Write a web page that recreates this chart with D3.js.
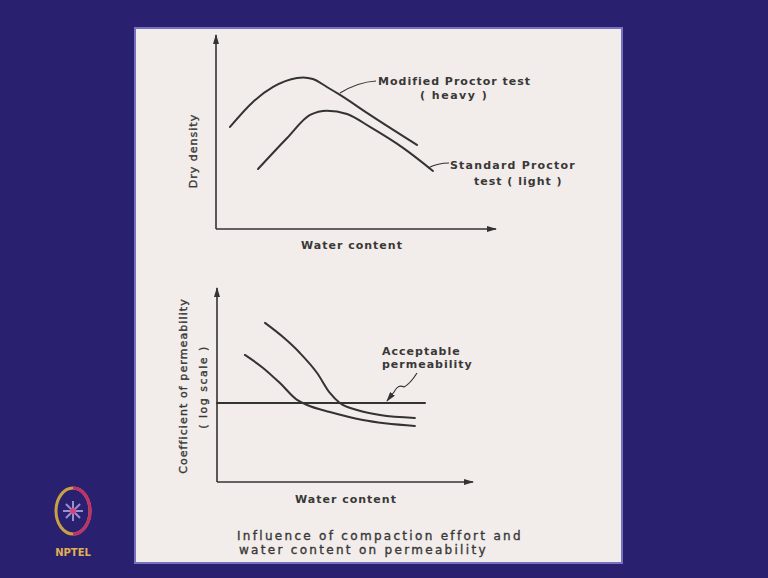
<!DOCTYPE html>
<html>
<head>
<meta charset="utf-8">
<script src="https://cdn.jsdelivr.net/npm/d3@7"></script>
<style>
  body { margin: 0; background: #2a2070; }
  svg { display: block; }
  svg text { font-family: "DejaVu Sans", sans-serif; fill: #383838; }
</style>
</head>
<body>
<div id="chart"></div>
<script>
// curves, in 0-100 axis units
const modifiedProctor = [[5.0, 52.6], [13.2, 65.5], [20.4, 73.2], [28.9, 77.8], [31.1, 78.1], [34.6, 77.3], [39.6, 73.2], [44.3, 69.1], [55.0, 58.8], [71.8, 43.3]];
const standardProctor = [[15.0, 30.9], [25.4, 46.9], [33.6, 58.8], [39.6, 61.0], [46.8, 59.3], [55.0, 52.6], [66.8, 41.8], [77.5, 29.9]];
const permeabilityHeavy = [[10.9, 65.5], [18.0, 58.8], [24.6, 51.0], [31.3, 42.3], [35.2, 39.7], [44.1, 36.1], [57.0, 32.0], [77.3, 28.9]];
const permeabilityLight = [[18.75, 82.0], [25.8, 74.7], [32.4, 66.5], [39.1, 56.2], [44.1, 45.9], [48.0, 40.7], [54.7, 37.1], [63.7, 34.5], [77.3, 33.0]];
const acceptableLevel = [[0, 40.7], [81.25, 40.7]];

const W = 768, H = 578;
const svg = d3.select("#chart").append("svg").attr("width", W).attr("height", H);

svg.append("rect").attr("width", W).attr("height", H).attr("fill", "#2a2070");
svg.append("rect")
    .attr("x", 135).attr("y", 28).attr("width", 487).attr("height", 535)
    .attr("fill", "#f2ecea").attr("stroke", "#7772c0").attr("stroke-width", 2);

svg.append("defs").append("marker")
    .attr("id", "arrow").attr("viewBox", "0 0 10 6")
    .attr("refX", 9).attr("refY", 3)
    .attr("markerWidth", 10).attr("markerHeight", 6)
    .attr("markerUnits", "userSpaceOnUse")
    .attr("orient", "auto")
    .append("path").attr("d", "M0,0L10,3L0,6Z").attr("fill", "#333");

const ink = "#333";

function panel(x0, x1, y0, y1) {
    const x = d3.scaleLinear().domain([0, 100]).range([x0, x1]);
    const y = d3.scaleLinear().domain([0, 100]).range([y0, y1]);
    const g = svg.append("g");
    g.append("line").attr("x1", x(0)).attr("y1", y(0)).attr("x2", x(0)).attr("y2", y(100))
        .attr("stroke", ink).attr("stroke-width", 1.6).attr("marker-end", "url(#arrow)");
    g.append("line").attr("x1", x(0)).attr("y1", y(0)).attr("x2", x(100)).attr("y2", y(0))
        .attr("stroke", ink).attr("stroke-width", 1.6).attr("marker-end", "url(#arrow)");
    return { g, x, y };
}

function curve(p, pts, cv) {
    const line = d3.line()
        .x(d => p.x(d[0]))
        .y(d => p.y(d[1]))
        .curve(cv || d3.curveMonotoneX);
    p.g.append("path").attr("d", line(pts))
        .attr("fill", "none").attr("stroke", ink).attr("stroke-width", 2)
        .attr("stroke-linecap", "round");
}

function label(txt, x, y, opts) {
    opts = opts || {};
    const t = svg.append("text").attr("x", x).attr("y", y)
        .attr("font-size", opts.size || 11)
        .attr("letter-spacing", opts.ls == null ? 1 : opts.ls)
        .attr("font-weight", opts.weight || "bold")
        .attr("text-anchor", opts.anchor || "start")
        .text(txt);
    if (opts.rotate) t.attr("transform", `rotate(-90,${x},${y})`);
    if (opts.thick) t.attr("stroke", "#383838").attr("stroke-width", 0.35);
    return t;
}

// top panel: dry density vs water content
const topPanel = panel(216, 496, 229, 35);
curve(topPanel, modifiedProctor);
curve(topPanel, standardProctor);

svg.append("path").attr("d", "M376,81 Q358,82 340,93").attr("fill", "none").attr("stroke", ink).attr("stroke-width", 1.2);
svg.append("path").attr("d", "M449,163 Q438,163 428,168").attr("fill", "none").attr("stroke", ink).attr("stroke-width", 1.2);

label("Modified Proctor test", 378, 85);
label("( heavy )", 420, 99, { ls: 1.5 });
label("Standard Proctor", 450, 169, { ls: 1.2 });
label("test ( light )", 474, 185);
label("Dry density", 197, 151, { rotate: true, anchor: "middle", weight: "normal", thick: true });
label("Water content", 352, 249, { anchor: "middle" });

// bottom panel: permeability vs water content
const botPanel = panel(217, 473, 482, 288);
curve(botPanel, acceptableLevel, d3.curveLinear);
curve(botPanel, permeabilityHeavy);
curve(botPanel, permeabilityLight);

svg.append("path").attr("d", "M417,373 Q410,384 404,387 Q398,384 394,392 L387,401")
    .attr("fill", "none").attr("stroke", ink).attr("stroke-width", 1.2).attr("marker-end", "url(#arrow)");

label("Acceptable", 382, 355);
label("permeability", 382, 368);
label("Coefficient of permeability", 187, 386, { rotate: true, anchor: "middle", weight: "normal", ls: 1.1, thick: true });
label("( log scale )", 207, 387, { rotate: true, anchor: "middle", weight: "normal", ls: 1.5, thick: true });
label("Water content", 346, 503, { anchor: "middle" });

label("Influence of compaction effort and", 237, 540, { size: 12, weight: "normal", ls: 2.3, thick: true });
label("water content on permeability", 239, 554, { size: 12, weight: "normal", ls: 2.3, thick: true });

// NPTEL mark
const logo = svg.append("g");
logo.append("ellipse").attr("cx", 73).attr("cy", 511).attr("rx", 17).attr("ry", 23)
    .attr("fill", "none").attr("stroke", "#c9a046").attr("stroke-width", 3);
logo.append("path").attr("d", "M73,488 A17,23 0 0,1 73,534").attr("fill", "none")
    .attr("stroke", "#c0306a").attr("stroke-width", 3);
d3.range(8).forEach(i => {
    const a = i * Math.PI / 4;
    logo.append("line").attr("x1", 73).attr("y1", 511)
        .attr("x2", 73 + 10 * Math.cos(a)).attr("y2", 511 + 10 * Math.sin(a))
        .attr("stroke", "#9b8fd0").attr("stroke-width", 2);
});
logo.append("circle").attr("cx", 73).attr("cy", 511).attr("r", 3).attr("fill", "#d8447a");
logo.append("text").attr("x", 73).attr("y", 556).attr("text-anchor", "middle")
    .attr("font-size", 10).attr("font-weight", "bold").style("fill", "#e0b050").text("NPTEL");
</script>
</body>
</html>
